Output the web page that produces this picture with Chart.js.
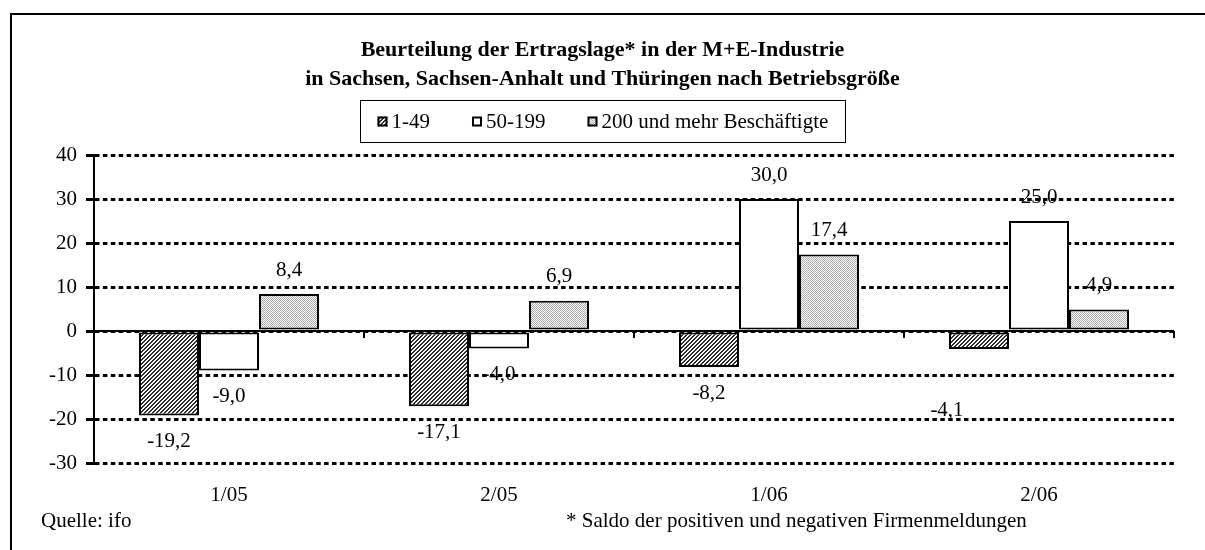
<!DOCTYPE html>
<html>
<head>
<meta charset="utf-8">
<script src="https://cdn.jsdelivr.net/npm/chart.js@4.4.0/dist/chart.umd.min.js"></script>
<style>
html,body{margin:0;padding:0;background:#fff;overflow:hidden}
#wrap{width:1205px;height:550px;position:relative}
</style>
</head>
<body>
<div id="wrap"><canvas id="c" width="1205" height="550"></canvas></div>
<script>
// ---- data ----
const categories = ['1/05', '2/05', '1/06', '2/06'];
const seriesNames = ['1-49', '50-199', '200 und mehr Beschäftigte'];
const valuesSmall = [-19.2, -17.1, -8.2, -4.1];
const valuesMedium = [-9.0, -4.0, 30.0, 25.0];
const valuesLarge = [8.4, 6.9, 17.4, 4.9];
const yTickValues = [-30, -20, -10, 0, 10, 20, 30, 40];
const titleLines = ['Beurteilung der Ertragslage* in der M+E-Industrie',
                    'in Sachsen, Sachsen-Anhalt und Thüringen nach Betriebsgröße'];
const sourceNote = 'Quelle: ifo';
const footNote = '* Saldo der positiven und negativen Firmenmeldungen';

// ---- styling ----
const FONT = '"Liberation Serif", "Times New Roman", serif';
const FS = 21;
const canvas = document.getElementById('c');
const ctx = canvas.getContext('2d');

function makePattern(size, fn) {
  const c = document.createElement('canvas');
  c.width = size; c.height = size;
  const x = c.getContext('2d');
  const img = x.createImageData(size, size);
  for (let j = 0; j < size; j++) for (let i = 0; i < size; i++) {
    const k = (j * size + i) * 4;
    const v = fn(i, j);
    img.data[k] = img.data[k + 1] = img.data[k + 2] = v;
    img.data[k + 3] = 255;
  }
  x.putImageData(img, 0, 0);
  return ctx.createPattern(c, 'repeat');
}
const hatchFill = makePattern(4, (i, j) => (((i + j) % 4) < 2 ? 45 : 250));
const dotFill = makePattern(2, (i, j) => (((i + j) % 2) === 0 ? 170 : 255));
const fills = [hatchFill, '#ffffff', dotFill];

function fmt(v) { return v.toFixed(1).replace('.', ','); }

const deco = {
  id: 'deco',
  beforeDraw(chart) {
    const c = chart.ctx;
    c.save();
    c.fillStyle = '#fff';
    c.fillRect(0, 0, chart.width, chart.height);
    c.restore();
  },
  afterDatasetsDraw(chart, args, opts) {
    const c = chart.ctx, xs = chart.scales.x, ys = chart.scales.y, a = chart.chartArea;
    const y0 = ys.getPixelForValue(0);
    c.save();
    c.strokeStyle = '#000';
    c.lineWidth = 2;
    c.setLineDash([]);
    c.beginPath(); c.moveTo(a.left, y0); c.lineTo(a.right, y0); c.stroke();
    const half = (xs.getPixelForValue(1) - xs.getPixelForValue(0)) / 2;
    for (let i = 0; i < categories.length; i++) {
      const x = xs.getPixelForValue(i) + half;
      c.beginPath(); c.moveTo(x, y0); c.lineTo(x, y0 + 7); c.stroke();
    }
    c.font = FS + 'px ' + FONT;
    c.fillStyle = '#000';
    c.textAlign = 'center';
    c.textBaseline = 'middle';
    const shifts = opts.shift || {};
    chart.data.datasets.forEach((ds, di) => {
      const meta = chart.getDatasetMeta(di);
      meta.data.forEach((bar, i) => {
        const v = ds.data[i];
        const sh = shifts[di + '-' + i] || [0, 0];
        const y = v >= 0 ? bar.y - 24 : bar.y + 26;
        c.fillText(fmt(v), bar.x + sh[0], y + sh[1]);
      });
    });
    c.restore();
  },
  afterDraw(chart) {
    const c = chart.ctx;
    const cx = chart.width / 2;
    c.save();
    // frame
    c.strokeStyle = '#000';
    c.lineWidth = 2;
    c.strokeRect(11, 14, chart.width + 50, chart.height + 50);
    // title
    c.fillStyle = '#000';
    c.textAlign = 'center';
    c.textBaseline = 'alphabetic';
    c.font = 'bold 22px ' + FONT;
    c.fillText(titleLines[0], cx, 56);
    c.fillText(titleLines[1], cx, 85);
    // legend
    c.font = FS + 'px ' + FONT;
    const sq = 10, gapTxt = 4, gapItem = 42, padX = 17;
    const widths = seriesNames.map(n => c.measureText(n).width);
    let total = padX * 2 + gapItem * (seriesNames.length - 1);
    widths.forEach(w => { total += sq + gapTxt + w; });
    const bx = Math.round(cx - total / 2) + 0.5, by = 100.5, bh = 42;
    c.lineWidth = 1;
    c.strokeRect(bx, by, Math.round(total), bh);
    let x = bx + padX;
    const ly = by + bh / 2;
    c.textAlign = 'left';
    c.textBaseline = 'middle';
    seriesNames.forEach((n, i) => {
      c.fillStyle = fills[i];
      c.fillRect(x, ly - sq / 2, sq, sq);
      c.lineWidth = 2;
      c.strokeStyle = '#000';
      c.strokeRect(x + 1, ly - sq / 2 + 1, sq - 2, sq - 2);
      c.fillStyle = '#000';
      c.fillText(n, x + sq + gapTxt, ly + 1);
      x += sq + gapTxt + widths[i] + gapItem;
    });
    // notes
    c.textBaseline = 'alphabetic';
    c.fillText(sourceNote, 41, 527);
    c.fillText(footNote, 566, 527);
    c.restore();
  }
};

const chart = new Chart(ctx, {
  type: 'bar',
  data: {
    labels: categories,
    datasets: [
      { label: seriesNames[0], data: valuesSmall, backgroundColor: fills[0] },
      { label: seriesNames[1], data: valuesMedium, backgroundColor: fills[1] },
      { label: seriesNames[2], data: valuesLarge, backgroundColor: fills[2] }
    ]
  },
  options: {
    responsive: false,
    animation: false,
    devicePixelRatio: 1,
    layout: { padding: { left: 0, right: 31, top: 155, bottom: 0 } },
    datasets: {
      bar: { categoryPercentage: 2 / 3, barPercentage: 1, borderColor: '#000', borderWidth: 2, borderSkipped: false }
    },
    plugins: {
      legend: { display: false },
      title: { display: false },
      tooltip: { enabled: false },
      deco: { shift: { '0-3': [-32, 35] } }
    },
    scales: {
      x: {
        grid: { display: false, drawTicks: false },
        border: { display: false },
        ticks: { color: '#000', font: { family: FONT, size: FS }, padding: 20 },
        afterFit(s) { s.height = 87; }
      },
      y: {
        min: -30, max: 40,
        afterBuildTicks(s) { s.ticks = yTickValues.map(v => ({ value: v })); },
        ticks: { color: '#000', font: { family: FONT, size: FS }, padding: 9, callback: v => String(v) },
        grid: { color: '#000', lineWidth: 3, tickLength: 8, tickColor: '#000', tickWidth: 3, tickBorderDash: [] },
        border: { display: true, color: '#000', width: 2, dash: [4.5, 3.4] },
        afterFit(s) { s.width = 94; }
      }
    }
  },
  plugins: [deco]
});
</script>
</body>
</html>
